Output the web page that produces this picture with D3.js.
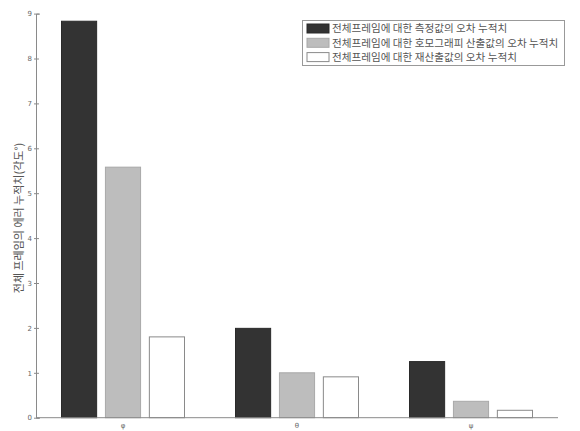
<!DOCTYPE html>
<html><head><meta charset="utf-8">
<script src="https://cdn.jsdelivr.net/npm/d3@7"></script>
<style>body{margin:0;background:#fff}svg{display:block}text{font-family:"Noto Sans CJK KR","DejaVu Sans",sans-serif}</style>
</head><body>
<script>
const categories = ["φ", "θ", "ψ"];
const seriesNames = [
  "전체프레임에 대한 측정값의 오차 누적치",
  "전체프레임에 대한 호모그래피 산출값의 오차 누적치",
  "전체프레임에 대한 재산출값의 오차 누적치"
];
const measured = [8.83, 1.99, 1.25];
const homography = [5.58, 1.00, 0.365];
const recomputed = [1.80, 0.91, 0.165];
const yTicks = [0,1,2,3,4,5,6,7,8,9];
const yLabel = "전체 프레임의 에러 누적치(각도°)";

const seriesValues = [measured, homography, recomputed];
const fills = ["#333333", "#bdbdbd", "#ffffff"];
const strokes = ["#2a2a2a", "#a8a8a8", "#8a8a8a"];

const W = 580, H = 431;
const svg = d3.select("body").append("svg").attr("width", W).attr("height", H);

const x0 = d3.scaleBand().domain(categories).range([36, 558]);
const x1 = d3.scaleBand().domain(d3.range(3)).range([-61.5, 61.5]).paddingInner(0.2);
const y = d3.scaleLinear().domain([0, 9]).range([417.7, 13.6]);

const axisColor = "#8a8a8a";

// bars
categories.forEach((c, i) => {
  const cx = x0(c) + x0.bandwidth() / 2;
  seriesValues.forEach((vals, s) => {
    svg.append("rect")
      .attr("x", cx + x1(s))
      .attr("y", y(vals[i]))
      .attr("width", x1.bandwidth())
      .attr("height", y(0) - y(vals[i]))
      .attr("fill", fills[s])
      .attr("stroke", strokes[s])
      .attr("stroke-width", 1);
  });
});

// y axis
const yAxis = d3.axisLeft(y).tickValues(yTicks).tickSize(-4).tickPadding(4).tickFormat(d3.format("d"));
const gy = svg.append("g").attr("transform", "translate(36,0)").call(yAxis);
gy.select(".domain").attr("stroke", axisColor);
gy.selectAll(".tick line").attr("stroke", axisColor).attr("x1", -2).attr("x2", 3);
gy.selectAll(".tick text").attr("fill", "#666").style("font-size", "7px").style("font-family", "DejaVu Sans");

// x axis
const xAxis = d3.axisBottom(x0).tickSize(0).tickPadding(5);
const gx = svg.append("g").attr("transform", `translate(0,${y(0)})`).call(xAxis);
gx.select(".domain").attr("stroke", axisColor).attr("d", `M36,0H558`);
gx.selectAll(".tick text").attr("fill", "#666").style("font-size", "7px").style("font-family", "DejaVu Sans");

// y label
svg.append("text")
  .attr("transform", "translate(23,218) rotate(-90)")
  .attr("text-anchor", "middle")
  .attr("fill", "#555")
  .style("font-size", "11px")
  .text(yLabel);

// legend
const lg = svg.append("g");
lg.append("rect").attr("x", 302.5).attr("y", 20.5).attr("width", 262).attr("height", 45)
  .attr("fill", "#fff").attr("stroke", "#999").attr("stroke-width", 1);
seriesNames.forEach((name, s) => {
  const ry = 28.5 + s * 14.3;
  lg.append("rect").attr("x", 307).attr("y", ry - 4.5).attr("width", 22).attr("height", 9)
    .attr("fill", fills[s]).attr("stroke", strokes[s]).attr("stroke-width", 1);
  lg.append("text").attr("x", 332).attr("y", ry + 3.8).attr("fill", "#555")
    .style("font-size", "10.6px").text(name);
});
</script>
</body></html>
